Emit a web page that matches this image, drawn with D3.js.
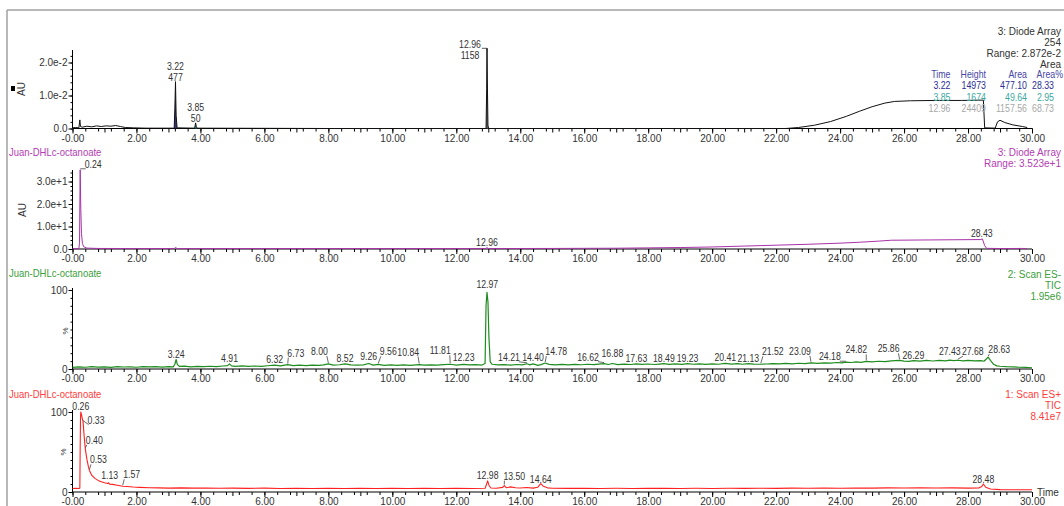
<!DOCTYPE html>
<html><head><meta charset="utf-8">
<script src="https://cdn.jsdelivr.net/npm/d3@7"></script>
<style>
html,body{margin:0;padding:0;background:#fff;}
svg{display:block;font-family:"Liberation Sans",Arial,sans-serif;font-size:10px;}
</style></head><body>
<svg id="c" width="1064" height="506"></svg>
<script>
// ---------------- DATA ----------------
const sampleName = "Juan-DHLc-octanoate";
const timeTicks = [0,2,4,6,8,10,12,14,16,18,20,22,24,26,28,30];
const timeTickLabels = ["-0.00","2.00","4.00","6.00","8.00","10.00","12.00","14.00","16.00","18.00","20.00","22.00","24.00","26.00","28.00","30.00"];
const uvTicks = [0,0.01,0.02];
const uvTickLabels = ["0.0","1.0e-2","2.0e-2"];
const pdaTicks = [0,10,20,30];
const pdaTickLabels = ["0.0","1.0e+1","2.0e+1","3.0e+1"];
const pctTicks = [0,100];
const pctTickLabels = ["0","100"];

// Panel 1: Diode array 254 nm (AU)
const uv254 = [[0.00,0.0002],[0.10,0.0003],[0.20,0.0002],[0.23,0.0026],[0.25,0.0006],[0.30,0.0004],[0.45,0.0007],[0.60,0.0005],[0.75,0.0008],[0.90,0.0006],[1.05,0.0008],[1.20,0.0007],[1.35,0.0009],[1.50,0.0006],[1.65,0.0003],[1.90,0.0002],[2.30,0.0001],[2.80,0.0001],[3.18,0.0001],[3.20,0.0060],[3.22,0.0142],[3.24,0.0040],[3.27,0.0002],[3.82,0.0001],[3.84,0.0012],[3.85,0.0017],[3.87,0.0006],[3.90,0.0001],[8.00,0.0000],[12.93,0.0000],[12.95,0.0120],[12.96,0.0243],[12.97,0.0150],[12.99,0.0010],[13.01,0.0000],[18.00,0.0000],[22.30,0.0000],[22.70,0.0003],[23.20,0.0010],[23.70,0.0021],[24.20,0.0037],[24.60,0.0052],[25.00,0.0066],[25.40,0.0077],[25.70,0.0082],[26.20,0.0084],[27.00,0.0085],[27.80,0.0085],[28.48,0.0086],[28.52,0.0002],[28.85,0.0001],[28.92,0.0020],[29.00,0.0025],[29.15,0.0018],[29.40,0.0011],[29.70,0.0006],[29.85,0.0003]];
const uvPeakTimes = [3.22,3.85,12.96];
const uvPeakHeights = [0.0142,0.0017,0.0243];
const uvPeakAreas = ["477","50","1158"];
const uvPeakWindows = [[3.18,3.27],[3.82,3.90],[12.93,13.01]];
const uvRight = ["3: Diode Array","254","Range: 2.872e-2","Area"];
const tableHeader = ["Time","Height","Area","Area%"];
const tableRows = [["3.22","14973","477.10","28.33"],["3.85","1674","49.64","2.95"],["12.96","24409","1157.56","68.73"]];

// Panel 2: Diode array max plot (AU)
const pda = [[0.00,0.15],[0.20,0.15],[0.22,3.0],[0.24,35.2],[0.26,17.5],[0.28,7.0],[0.31,2.5],[0.35,1.0],[0.45,0.4],[0.80,0.25],[2.00,0.2],[3.18,0.2],[3.22,0.7],[3.27,0.2],[8.00,0.2],[12.92,0.2],[12.96,0.6],[13.00,0.2],[15.00,0.25],[16.00,0.3],[17.00,0.35],[18.00,0.5],[19.00,0.65],[20.00,0.9],[21.00,1.3],[22.00,1.7],[23.00,2.1],[24.00,2.6],[24.60,3.0],[25.20,3.5],[25.60,3.9],[26.50,4.0],[27.50,4.1],[28.40,4.2],[28.45,4.5],[28.52,1.5],[28.58,0.3],[29.00,0.2],[29.70,0.25],[29.85,0.05]];
const pdaLabels = [0.24,12.96,28.43];
const pdaRight = ["3: Diode Array","Range: 3.523e+1"];

// Panel 3: Scan ES- TIC (%)
const esNeg = [[0.0,2.0],[0.2,2.6],[0.4,2.2],[0.6,2.9],[0.8,2.4],[1.0,2.8],[1.2,2.1],[1.4,3.0],[1.6,2.5],[1.8,2.7],[2.0,2.2],[2.2,3.1],[2.4,2.6],[2.6,2.9],[2.8,2.4],[3.0,3.0],[3.15,2.7],[3.20,6.0],[3.24,12.0],[3.28,5.5],[3.35,3.2],[3.5,3.6],[3.7,2.8],[3.9,3.4],[4.1,2.9],[4.3,3.5],[4.5,3.0],[4.7,3.8],[4.85,4.2],[4.91,6.5],[4.97,4.0],[5.1,3.3],[5.3,3.9],[5.5,3.2],[5.7,3.8],[5.9,3.4],[6.1,4.1],[6.32,5.0],[6.5,4.0],[6.73,5.6],[6.9,4.2],[7.1,4.8],[7.3,4.3],[7.5,5.0],[7.7,4.5],[7.85,5.2],[8.00,6.4],[8.15,4.9],[8.35,5.4],[8.52,6.6],[8.7,5.2],[8.9,4.8],[9.1,5.3],[9.26,7.0],[9.4,4.9],[9.56,5.8],[9.75,4.6],[9.95,5.2],[10.15,4.7],[10.35,5.3],[10.55,4.6],[10.84,5.6],[11.0,4.8],[11.2,5.3],[11.4,4.9],[11.6,5.5],[11.81,6.0],[12.0,5.0],[12.23,5.8],[12.4,5.1],[12.6,5.5],[12.8,5.0],[12.90,7.0],[12.93,80],[12.96,97],[12.99,85],[13.02,40],[13.06,9],[13.12,6.0],[13.3,5.2],[13.5,5.6],[13.7,5.0],[13.9,5.7],[14.05,5.2],[14.21,6.6],[14.3,5.3],[14.40,6.4],[14.55,4.6],[14.65,5.5],[14.78,7.6],[14.9,5.8],[15.1,5.2],[15.3,5.8],[15.5,5.3],[15.7,5.9],[15.9,5.4],[16.1,6.0],[16.3,5.5],[16.45,6.1],[16.62,6.8],[16.75,5.7],[16.88,7.0],[17.05,5.6],[17.25,6.2],[17.45,5.7],[17.63,6.6],[17.8,5.8],[18.0,6.3],[18.2,5.7],[18.35,6.2],[18.49,6.7],[18.65,5.8],[18.85,6.4],[19.05,5.9],[19.23,6.9],[19.4,6.0],[19.6,6.5],[19.8,5.9],[20.0,6.6],[20.2,6.0],[20.41,7.0],[20.6,6.1],[20.8,6.7],[20.95,6.0],[21.13,6.9],[21.3,6.1],[21.52,6.0],[21.7,6.3],[21.9,6.8],[22.1,6.4],[22.3,7.1],[22.5,6.6],[22.7,7.3],[22.9,6.8],[23.09,7.8],[23.3,7.1],[23.5,7.8],[23.7,7.4],[23.9,8.2],[24.05,7.8],[24.18,8.6],[24.35,8.2],[24.5,8.9],[24.65,8.4],[24.82,9.6],[25.0,9.0],[25.2,9.8],[25.4,9.3],[25.6,10.2],[25.86,11.0],[26.0,10.0],[26.15,9.6],[26.29,10.6],[26.5,9.9],[26.7,10.8],[26.9,10.1],[27.1,10.9],[27.3,10.3],[27.43,11.2],[27.55,10.5],[27.68,11.1],[27.85,10.4],[28.0,10.9],[28.2,10.2],[28.4,10.6],[28.5,9.8],[28.58,13.0],[28.63,15.0],[28.7,11.0],[28.8,6.0],[28.9,4.0],[29.0,3.5],[29.2,3.0],[29.4,2.8],[29.6,2.2],[29.8,2.0],[30.0,1.6]];
const esNegLabels = [3.24,4.91,6.32,6.73,8.00,8.52,9.26,9.56,10.84,11.81,12.23,12.97,14.21,14.40,14.78,16.62,16.88,17.63,18.49,19.23,20.41,21.13,21.52,23.09,24.18,24.82,25.86,26.29,27.43,27.68,28.63];
const esNegRight = ["2: Scan ES-","TIC","1.95e6"];

// Panel 4: Scan ES+ TIC (%)
const esPos = [[0.00,4.4],[0.10,4.6],[0.20,4.3],[0.23,5.0],[0.24,55],[0.25,92],[0.26,100],[0.28,97],[0.30,93],[0.33,88],[0.36,72],[0.40,54],[0.45,41],[0.50,31],[0.53,27],[0.60,21],[0.70,17],[0.80,14.5],[0.90,12.8],[1.00,11.5],[1.10,10.6],[1.13,11.5],[1.16,9.8],[1.25,9.5],[1.40,8.4],[1.57,7.2],[1.70,6.8],[1.90,6.2],[2.10,5.8],[2.40,5.4],[2.70,5.1],[3.00,4.9],[3.40,5.2],[3.80,4.8],[4.20,5.0],[4.60,4.6],[5.00,4.9],[5.50,4.5],[6.00,4.8],[6.50,4.4],[7.00,4.7],[7.50,4.3],[8.00,4.6],[8.50,4.4],[9.00,4.7],[9.50,4.3],[10.00,4.6],[10.50,4.4],[11.00,4.5],[11.50,4.3],[12.00,4.6],[12.50,4.4],[12.90,4.6],[12.94,9.0],[12.98,14.0],[13.02,8.5],[13.08,5.0],[13.25,4.6],[13.45,5.8],[13.50,8.0],[13.56,5.4],[13.70,6.4],[13.85,5.3],[14.00,5.0],[14.20,5.6],[14.40,4.8],[14.55,6.0],[14.64,10.5],[14.72,7.2],[14.85,5.2],[15.00,4.7],[15.50,4.5],[16.00,4.7],[16.50,4.4],[17.00,4.6],[17.50,4.4],[18.00,4.7],[18.50,4.5],[19.00,4.4],[19.50,4.6],[20.00,4.4],[20.50,4.6],[21.00,4.5],[21.50,4.7],[22.00,4.5],[22.50,4.8],[23.00,4.6],[23.50,4.9],[24.00,4.7],[24.50,5.0],[25.00,4.8],[25.50,5.2],[26.00,5.0],[26.50,5.3],[27.00,5.0],[27.50,5.2],[28.00,4.9],[28.35,5.2],[28.43,7.0],[28.48,10.0],[28.55,6.0],[28.70,3.8],[29.00,3.0],[29.50,2.9],[30.00,2.8]];
const esPosLabels = [0.26,0.33,0.40,0.53,1.13,1.57,12.98,13.50,14.64,28.48];
const esPosRight = ["1: Scan ES+","TIC","8.41e7"];

// ---------------- LAYOUT (positions / styles) ----------------
const L = {
  x0: 72.5, x1: 1032, rightX: 1061,
  p1: {y0:128.5, top:50, dom:0.0236, px:0.0236*3300, minor:0.002},
  p2: {y0:249, top:170, dom:35.23, px:35.23*2.25, minor:2},
  p3: {y0:369, top:288, dom:100, px:79, minor:10},
  p4: {y0:492, top:410, dom:100, px:80, minor:10},
  pdaNudge: [[13,0],[0,0],[0,0]],
  negNudge: [[0,0],[0,0],[0,0],[8,-6],[-9,-7],[0,0],[0,-1],[10,-7],[-11,-7],[-10,-8],[0,-1],[0,-2],[-18,-1],[0,-1],[11,-6],[-16,-1],[0,-4],[0,0],[0,0],[0,0],[0,0],[0,0],[12,-7],[-11,-6],[-16,0],[-10,-6],[-11,-6],[0,0],[0,-3],[15,-3],[11,-2]],
  posNudge: [[0,0],[13,4],[9,-3],[9,-5],[1,-2],[9,-6],[0,0],[10,-4],[0,1],[0,1]],
  tableCols: [950.5, 986, 1027, 1054],
  peak: {fs:10.5, sx:0.83}, table: {fs:10, sx:0.88}, title: {fs:10, sx:0.95},
  colors: {
    text:"#333", uv:"#111", pdaLine:"#a832a8", pdaText:"#b43cb4",
    negLine:"#1e8c1e", negText:"#3ca03c", posLine:"#ff2020", posText:"#ff3c3c",
    header:"#4646a8", rows:["#2d2d96","#3ca8a0","#a8a8a8"], fills:["#1c1c66","#2a8c84","#555"]
  }
};

const svg = d3.select("#c");
const x = d3.scaleLinear().domain([0,30]).range([L.x0, L.x1]);

// condensed text helper: returns {node, width}
function ctext(parent, px, py, str, st, anchor, color){
  const t = parent.append("text").attr("transform",`translate(${px},${py}) scale(${st.sx},1)`)
    .attr("text-anchor",anchor||"middle").attr("fill",color||L.colors.text).style("font-size",st.fs+"px").text(str);
  return {node:t, width:t.node().getComputedTextLength()*st.sx};
}

// frame
svg.append("line").attr("x1",7).attr("x2",1064).attr("y1",10).attr("y2",10).attr("stroke","#a0a0a0").attr("stroke-width",1.5);
svg.append("line").attr("x1",7).attr("x2",7).attr("y1",10).attr("y2",506).attr("stroke","#a0a0a0").attr("stroke-width",1.5);

function makePanel(P, ticks, tickLabels){
  const y = d3.scaleLinear().domain([0,P.dom]).range([P.y0, P.y0-P.px]);
  const g = svg.append("g");
  const xa = g.append("g").attr("transform",`translate(0,${P.y0})`)
    .call(d3.axisBottom(x).tickValues(timeTicks).tickFormat((d,i)=>timeTickLabels[i]).tickSize(5).tickPadding(1));
  const xm = g.append("g").attr("transform",`translate(0,${P.y0})`)
    .call(d3.axisBottom(x).tickValues(d3.range(0,30.001,0.4)).tickFormat("").tickSize(3));
  const xm2 = g.append("g").attr("transform",`translate(0,${P.y0})`)
    .call(d3.axisBottom(x).tickValues(d3.range(1,30,2)).tickFormat("").tickSize(4));
  const ya = g.append("g").attr("transform",`translate(${L.x0},0)`)
    .call(d3.axisLeft(y).tickValues(ticks).tickFormat((d,i)=>tickLabels[i]).tickSize(4).tickPadding(1));
  const ym = g.append("g").attr("transform",`translate(${L.x0},0)`)
    .call(d3.axisLeft(y).tickValues(d3.range(0,P.dom,P.minor)).tickFormat("").tickSize(2));
  [xa,xm,xm2,ya,ym].forEach(a=>{
    a.select(".domain").remove();
    a.selectAll("line").attr("stroke","#000");
    a.selectAll("text").attr("fill",L.colors.text).style("font-size","10px").style("font-family","Liberation Sans, Arial, sans-serif");
  });
  xa.selectAll("text").attr("dy","0.7em");
  g.append("line").attr("x1",L.x0).attr("x2",L.x1).attr("y1",P.y0).attr("y2",P.y0).attr("stroke","#000");
  g.append("line").attr("x1",L.x0).attr("x2",L.x0).attr("y1",P.top).attr("y2",P.y0).attr("stroke","#000");
  return {g,y};
}

function trace(p, data, color, w){
  const line = d3.line().x(d=>x(d[0])).y(d=>p.y(d[1]));
  p.g.append("path").datum(data).attr("d",line).attr("fill","none").attr("stroke",color).attr("stroke-width",w||1).attr("stroke-linejoin","round");
}

function nearest(data,t){ return d3.least(data, d=>Math.abs(d[0]-t)); }

function peakLabels(p, data, times, nudges){
  times.forEach((t,i)=>{
    const pt = nearest(data,t);
    const [dx,dy] = nudges[i];
    const px = x(t), py = p.y(pt[1]);
    const lx = px+dx, ly = py-2+dy;
    const lab = ctext(p.g, lx, ly, t.toFixed(2), L.peak);
    if (Math.abs(dx)>3){
      const ex = dx>0 ? lx-lab.width/2+1 : lx+lab.width/2-1;
      p.g.append("line").attr("x1",ex).attr("y1",ly+1).attr("x2",px).attr("y2",py-1)
        .attr("stroke","#444").attr("stroke-width",0.8);
    }
  });
}

function rightText(lines, y0, color){
  lines.forEach((s,i)=>svg.append("text").attr("x",L.rightX).attr("y",y0+i*11).attr("text-anchor","end").attr("fill",color).text(s));
}
function leftTitle(y, color){
  ctext(svg, 9, y, sampleName, L.title, "start", color);
}
function yTitle(txt, cx, cy, fs){
  svg.append("text").attr("transform",`translate(${cx},${cy}) rotate(-90)`).attr("text-anchor","middle").attr("dy","0.35em")
    .attr("fill",L.colors.text).style("font-size",fs||"10px").text(txt);
}

// ---------- Panel 1 ----------
const p1 = makePanel(L.p1, uvTicks, uvTickLabels);
uvPeakWindows.forEach((wnd,i)=>{
  const seg = uv254.filter(d=>d[0]>=wnd[0]&&d[0]<=wnd[1]);
  p1.g.append("path").datum(seg).attr("d",d3.area().x(d=>x(d[0])).y0(p1.y(0)).y1(d=>p1.y(d[1])))
    .attr("fill",L.colors.fills[i]).attr("opacity",0.9);
});
trace(p1, uv254, L.colors.uv, 1);
uvPeakTimes.forEach((t,i)=>{
  const px = x(t), py = p1.y(uvPeakHeights[i]);
  if (i===2){
    const lx = px-17;
    const t1 = ctext(p1.g, lx, py-0.5, t.toFixed(2), L.peak);
    ctext(p1.g, lx, py+10.5, uvPeakAreas[i], L.peak);
    p1.g.append("path").attr("d",`M${lx+t1.width/2+1},${py}H${px}V${py+3}`).attr("fill","none").attr("stroke","#333").attr("stroke-width",0.8);
  } else {
    ctext(p1.g, px, py-11.5, t.toFixed(2), L.peak);
    ctext(p1.g, px, py-0.5, uvPeakAreas[i], L.peak);
  }
});
svg.append("rect").attr("x",11).attr("y",86).attr("width",4).attr("height",5).attr("fill","#000");
yTitle("AU", 21, 89);
rightText(uvRight, 35, L.colors.text);
const rowY = [77.5, 89, 100.5, 112];
tableHeader.forEach((s,j)=>ctext(svg, j===3?1063:L.tableCols[j], rowY[0], s, L.table, "end", L.colors.header));
tableRows.forEach((r,i)=>r.forEach((s,j)=>ctext(svg, L.tableCols[j], rowY[i+1], s, L.table, "end", L.colors.rows[i])));

// ---------- Panel 2 ----------
const p2 = makePanel(L.p2, pdaTicks, pdaTickLabels);
trace(p2, pda, L.colors.pdaLine, 1);
peakLabels(p2, pda, pdaLabels, L.pdaNudge);
leftTitle(155.5, L.colors.pdaText);
rightText(pdaRight, 155.5, L.colors.pdaText);
yTitle("AU", 22, 210);

// ---------- Panel 3 ----------
const p3 = makePanel(L.p3, pctTicks, pctTickLabels);
trace(p3, esNeg, L.colors.negLine, 1.2);
peakLabels(p3, esNeg, esNegLabels, L.negNudge);
leftTitle(276.5, L.colors.negText);
rightText(esNegRight, 277.5, L.colors.negText);
yTitle("%", 65, 331, "8px");

// ---------- Panel 4 ----------
const p4 = makePanel(L.p4, pctTicks, pctTickLabels);
trace(p4, esPos, L.colors.posLine, 1.1);
peakLabels(p4, esPos, esPosLabels, L.posNudge);
leftTitle(397.5, L.colors.posText);
rightText(esPosRight, 397.5, L.colors.posText);
yTitle("%", 63, 452, "8px");
svg.append("text").attr("x",1037).attr("y",L.p4.y0+4).attr("fill",L.colors.text).style("font-size","10px").text("Time");
</script>
</body></html>
